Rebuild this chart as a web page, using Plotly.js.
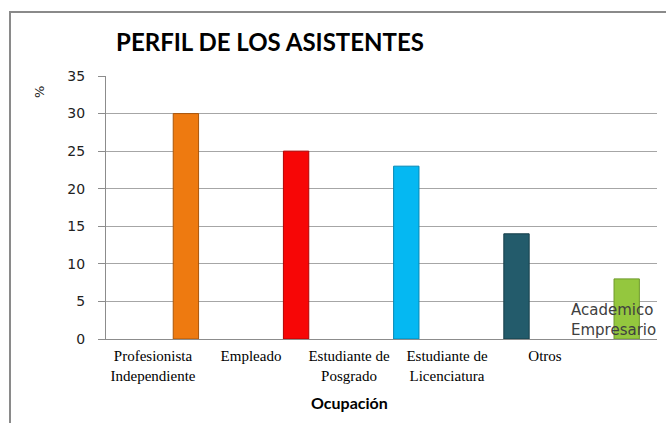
<!DOCTYPE html>
<html>
<head>
<meta charset="utf-8">
<script src="https://cdn.plot.ly/plotly-3.0.1.min.js"></script>
<style>
html,body{margin:0;padding:0;background:#fff;}
#wrap{position:relative;width:666px;height:423px;overflow:hidden;}
#frame{position:absolute;left:9px;top:11px;width:700px;height:450px;border-left:2px solid #8a8a8a;border-top:2px solid #8a8a8a;box-sizing:border-box;pointer-events:none;z-index:5;}
#chart{position:absolute;left:0;top:0;width:666px;height:423px;}
</style>
</head>
<body>
<div id="wrap"><div id="chart"></div><div id="frame"></div></div>
<script>
const categories = ["Profesionista Independiente","Empleado","Estudiante de Posgrado","Estudiante de Licenciatura","Otros"];
const tickLabels = ["Profesionista<br>Independiente","Empleado","Estudiante de<br>Posgrado","Estudiante de<br>Licenciatura","Otros"];
const values = [30, 25, 23, 14, 8];
const barColors = ["#EE7A10","#F70606","#05B8F2","#235B6B","#94C73E"];
const lineColors = ["#A9560B","#B00404","#0388B5","#163E49","#6E9A2A"];

const bars = {
  type: "bar",
  x: categories,
  y: values,
  width: 0.23,
  offset: 0.11,
  marker: {color: barColors, line: {color: lineColors, width: 1}},
  hoverinfo: "x+y",
  showlegend: false,
  xaxis: "x", yaxis: "y"
};
const labelTrace = {
  type: "scatter", mode: "markers",
  x: [0, 4], y: [null, null],
  xaxis: "x2", yaxis: "y",
  showlegend: false, hoverinfo: "skip"
};

const layout = {
  width: 666, height: 423,
  margin: {l: 106, r: 9, t: 76, b: 84},
  paper_bgcolor: "#ffffff", plot_bgcolor: "#ffffff",
  title: {
    text: "<b>PERFIL DE LOS ASISTENTES</b>",
    font: {family: "Lato, 'Noto Sans', sans-serif", size: 24, color: "#000"},
    x: 270/666, xanchor: "center", xref: "container",
    y: 1 - 43/423, yanchor: "middle", yref: "container"
  },
  bargap: 0,
  xaxis: {
    type: "category",
    range: [-0.5, 4.5],
    showticklabels: false,
    ticks: "",
    showline: true, linecolor: "#8c8c8c", linewidth: 1,
    showgrid: false, zeroline: false, fixedrange: true
  },
  xaxis2: {
    type: "linear",
    overlaying: "x",
    anchor: "y",
    side: "bottom",
    range: [-47/98, 504/98],
    tickvals: [0, 1, 2, 3, 4],
    ticktext: tickLabels,
    ticks: "",
    showline: false, showgrid: false, zeroline: false,
    tickfont: {family: "'Liberation Serif', 'DejaVu Serif', serif", size: 15, color: "#000"},
    ticklabelstandoff: 6,
    fixedrange: true
  },
  yaxis: {
    range: [0, 35],
    tickvals: [0, 5, 10, 15, 20, 25, 30, 35],
    ticks: "outside", ticklen: 7, tickcolor: "#8c8c8c", tickwidth: 1,
    showline: true, linecolor: "#8c8c8c", linewidth: 1,
    showgrid: true, gridcolor: "#a6a6a6", gridwidth: 1,
    zeroline: false,
    tickfont: {family: "'DejaVu Sans', sans-serif", size: 14, color: "#222"},
    ticklabelstandoff: 10,
    fixedrange: true
  },
  annotations: [
    {text: "%", xref: "paper", yref: "paper", x: (40-106)/551, y: (339-92)/263,
     showarrow: false, textangle: -90, xanchor: "center", yanchor: "middle",
     font: {family: "'DejaVu Sans', sans-serif", size: 13, color: "#222"}},
    {text: "<b>Ocupación</b>", xref: "paper", yref: "paper", x: (349-106)/551, y: (339-402)/263,
     showarrow: false, xanchor: "center", yanchor: "middle",
     font: {family: "Lato, 'Noto Sans', sans-serif", size: 16, color: "#000"}},
    {text: "Academico<br>Empresario", xref: "paper", yref: "y", x: (569-106)/551, y: 2.5,
     showarrow: false, xanchor: "left", yanchor: "middle", align: "left",
     font: {family: "'DejaVu Sans', sans-serif", size: 15, color: "#404040"}}
  ]
};

Plotly.newPlot("chart", [bars, labelTrace], layout, {displayModeBar: false, staticPlot: true});
</script>
</body>
</html>
